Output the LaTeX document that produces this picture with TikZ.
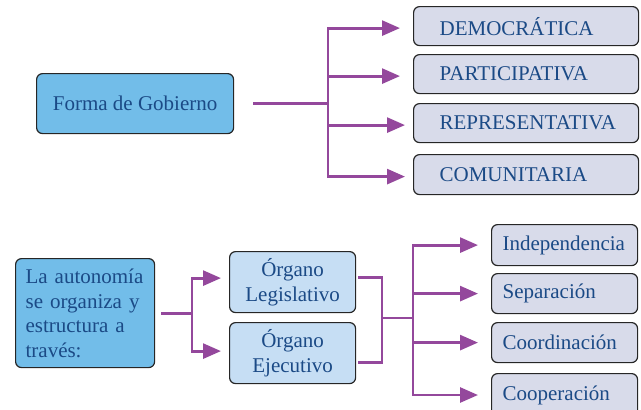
\documentclass[tikz,border=0pt]{standalone}
\usepackage{fontspec}
\setmainfont{Liberation Serif}
\usetikzlibrary{arrows.meta,calc}
\definecolor{txt}{HTML}{1B4A86}
\definecolor{sky}{HTML}{72BDE9}
\definecolor{lightb}{HTML}{C6DEF4}
\definecolor{lav}{HTML}{D8DBEA}
\definecolor{purp}{HTML}{94489C}
\begin{document}
\begin{tikzpicture}[x=1pt,y=-1pt,
  box/.style={draw=black!85,line width=1.2pt,rounded corners=6pt,text=txt,
    font=\fontsize{21}{24.5}\selectfont,inner ysep=0pt,anchor=north west},
  conn/.style={draw=purp,line width=2.8pt},
  arr/.style={conn,-{Triangle[length=18pt,width=15pt]}}]
\useasboundingbox (0,0) rectangle (641,410);

% top part
\node[box,fill=sky,minimum width=197pt,minimum height=60pt,inner xsep=0pt] (forma) at (36,73) {Forma de Gobierno};
\node[box,fill=lav,minimum height=39pt,text width=173pt,inner xsep=26pt,align=left] (demo) at (413,6) {DEMOCRÁTICA};
\node[box,fill=lav,minimum height=39pt,text width=173pt,inner xsep=26pt,align=left] (part) at (413,54) {PARTICIPATIVA};
\node[box,fill=lav,minimum height=39pt,text width=173pt,inner xsep=26pt,align=left] (repr) at (413,103) {REPRESENTATIVA};
\node[box,fill=lav,minimum height=40pt,text width=173pt,inner xsep=26pt,align=left] (comu) at (413,154) {COMUNITARIA};

\coordinate (fj) at (328,0);
\draw[conn] ($(forma.east)+(19,0)$) -- (forma.east -| fj);
\draw[arr] ($(fj |- comu.west)+(0,2)$) -- ($(fj |- demo.west)+(0,2)$) -- ($(demo.west)+(-13,2)$);
\draw[arr] ($(fj |- part.west)+(0,2)$) -- ($(part.west)+(-13,2)$);
\draw[arr] ($(fj |- repr.west)+(0,2)$) -- ($(repr.west)+(-8,2)$);
\draw[arr] ($(fj |- part.west)+(0,2)$) -- ($(fj |- comu.west)+(0,2)$) -- ($(comu.west)+(-8,2)$);

% bottom part
\node[box,fill=sky,minimum height=109pt,text width=119pt,inner xsep=10pt,align=left] (auto) at (15,258) {La autonomía\\se organiza y\\estructura a\\través:};
\node[box,fill=lightb,minimum height=61pt,text width=126pt,inner xsep=0pt,align=center] (leg) at (229,251) {Órgano\\Legislativo};
\node[box,fill=lightb,minimum height=61pt,text width=126pt,inner xsep=0pt,align=center] (eje) at (229,322) {Órgano\\Ejecutivo};

\node[box,fill=lav,minimum height=41pt,text width=124pt,inner xsep=11pt,align=left] (inde) at (491,224) {Independencia};
\node[box,fill=lav,minimum height=40pt,text width=124pt,inner xsep=11pt,align=left] (sepa) at (491,273) {Separación};
\node[box,fill=lav,minimum height=40pt,text width=124pt,inner xsep=11pt,align=left] (coor) at (491,322) {Coordinación};
\node[box,fill=lav,minimum height=44pt,text width=124pt,inner xsep=11pt,align=left] (coop) at (491,373) {Cooperación};

\coordinate (bj) at (192,0);
\draw[conn] ($(auto.east)+(6,0)$) -- (auto.east -| bj);
\draw[arr] (bj |- auto.east) -- ($(bj |- leg.west)+(0,-4)$) -- ($(leg.west)+(-8,-4)$);
\draw[arr] (bj |- auto.east) -- ($(bj |- eje.west)+(0,-2)$) -- ($(eje.west)+(-8,-2)$);

\coordinate (lo) at ($(leg.east)+(2,-5)$);
\coordinate (eo) at ($(eje.east)+(2,9)$);
\coordinate (mj) at (382,318);
\coordinate (tj) at (413,0);
\coordinate (cb) at (413,395);
\draw[conn] (lo) -- (lo -| mj) -- (eo -| mj) -- (eo);
\draw[conn] (mj) -- (mj -| tj);
\draw[arr] (tj |- mj) -- (tj |- inde.west) -- ($(inde.west)+(-13,0)$);
\draw[arr] (tj |- sepa.west) -- ($(sepa.west)+(-13,0)$);
\draw[arr] (tj |- coor.west) -- ($(coor.west)+(-13,0)$);
\draw[arr] (tj |- mj) -- (cb) -- ($(cb -| coop.west)+(-13,0)$);
\end{tikzpicture}
\end{document}
